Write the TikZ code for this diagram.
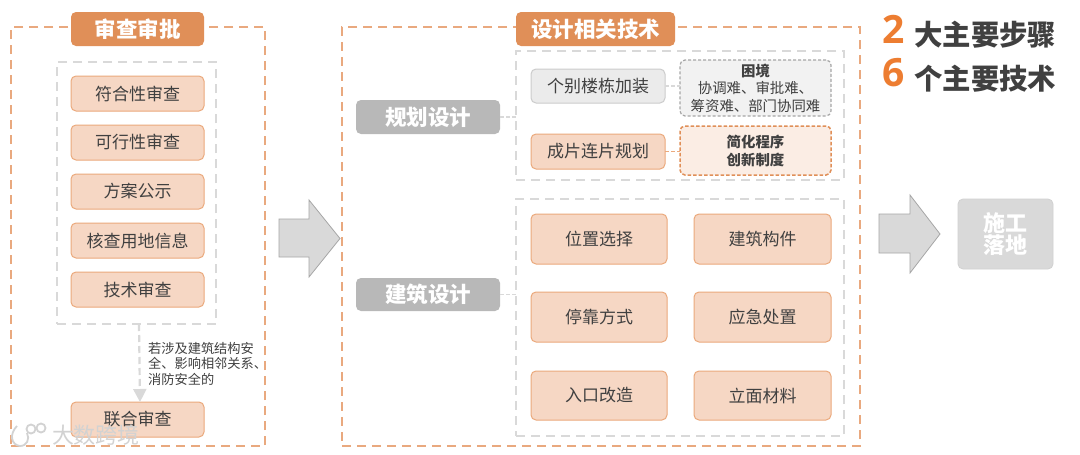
\documentclass[tikz,border=0pt]{standalone}
\usepackage{fontspec}
\setmainfont{Noto Sans CJK SC}
\newfontfamily\numfont{Open Sans}
\usetikzlibrary{arrows.meta}
\definecolor{orgline}{HTML}{E9A97F}
\definecolor{orghead}{HTML}{E08F58}
\definecolor{orgfill}{HTML}{F6D7C4}
\definecolor{orgbord}{HTML}{EBA97C}
\definecolor{orgnum}{HTML}{ED7D31}
\definecolor{grayline}{HTML}{D9D9D9}
\definecolor{graymid}{HTML}{B8B8B8}
\definecolor{txt}{HTML}{404040}
\definecolor{wmark}{HTML}{D2D2D2}
\newcommand{\fs}[1]{\fontsize{#1}{#1}\selectfont}
\newcommand{\bx}[7][]{%
  \node[#6,minimum width={(#4-#2)*1pt},minimum height={(#5-#3)*1pt},#1] (#7) at ({(#2+#4)/2},{(#3+#5)/2})}
\tikzset{
  base/.style={inner sep=0pt,outer sep=0pt,rounded corners=5pt,align=center},
  outerbox/.style={base,rounded corners=0pt,draw=orgline,line width=2.3pt,dash pattern=on 9pt off 6pt},
  innerbox/.style={base,rounded corners=0pt,draw=grayline,line width=2.3pt,dash pattern=on 9pt off 6pt},
  headbox/.style={base,fill=orghead,text=white,font=\fs{21.5}\bfseries},
  stagebox/.style={base,fill=graymid,text=white,font=\fs{21.5}\bfseries},
  itembox/.style={base,fill=orgfill,draw=orgbord,line width=1pt,text=txt,font=\fs{17}},
  plainbox/.style={base,fill=black!8,draw=black!20,line width=1pt,text=txt,font=\fs{17}},
  troublebox/.style={base,fill=black!5,draw=black!35,line width=1.2pt,dash pattern=on 3pt off 2pt,text=txt,font=\fontsize{14.4}{17.5}\selectfont},
  solvebox/.style={base,fill=orgfill!45,draw=orghead,line width=1.5pt,dash pattern=on 3.5pt off 2pt,text=txt,font=\fontsize{14.4}{18}\selectfont\bfseries},
  endbox/.style={base,fill=grayline,draw=black!18,line width=.8pt,text=white,font=\fs{22}\bfseries},
  bigarrow/.style={fill=grayline,draw=black!35,line width=.8pt},
  conn/.style={line width=1.2pt,draw=grayline,dash pattern=on 4pt off 2pt},
}
\begin{document}
\begin{tikzpicture}[x=1pt,y=-1pt]
\useasboundingbox (0,0) rectangle (1080,455);
\fill[white] (0,0) rectangle (1080,455);
% outer frames
\bx{11}{27}{265}{446}{outerbox}{frameA} {};
\bx{342}{27}{860}{446}{outerbox}{frameB} {};
% inner frames
\bx{57}{62}{216}{324}{innerbox}{listA} {};
\bx{516}{51}{844}{180}{innerbox}{listB} {};
\bx{516}{199}{844}{436}{innerbox}{listC} {};
% headers
\bx{71}{12}{204}{46}{headbox}{headA} {审查审批};
\bx{516}{12}{675}{46}{headbox}{headB} {设计相关技术};
% left column
\bx{71}{76}{204}{111}{itembox}{a1} {符合性审查};
\bx{71}{125}{204}{160}{itembox}{a2} {可行性审查};
\bx{71}{174}{204}{209}{itembox}{a3} {方案公示};
\bx{71}{223}{204}{258}{itembox}{a4} {核查用地信息};
\bx{71}{272}{204}{307}{itembox}{a5} {技术审查};
\bx{71}{402}{204}{437}{itembox}{a6} {联合审查};
\draw[draw=grayline,line width=2.2pt,dash pattern=on 7pt off 4pt,-{Triangle[width=13pt,length=13pt,fill=grayline]}] ([xshift=2.5pt]listA.south) -- ([xshift=2.5pt]a6.north);
\node[anchor=north west,inner sep=0pt,align=left,text=txt,font=\fontsize{13.2}{15.4}\selectfont] (note) at (148,342) {若涉及建筑结构安\\全、影响相邻关系、\\消防安全的};
% stages
\bx{356}{100}{500}{134}{stagebox}{s1} {规划设计};
\bx{356}{278}{500}{311}{stagebox}{s2} {建筑设计};
\draw[conn] (s1.east) -- (s1.east -| listB.west);
\draw[conn] (s2.east) -- (s2.east -| listC.west);
% planning
\bx{531}{69}{665}{103}{plainbox}{p1} {个别楼栋加装};
\bx{531}{134}{665}{169}{itembox}{p2} {成片连片规划};
\bx{680}{60}{831}{116}{troublebox}{q1} {\bfseries 困境\\协调难、审批难、\\筹资难、部门协同难};
\bx{680}{126}{831}{175}{solvebox}{q2} {简化程序\\创新制度};
\draw[conn] (p1.east) -- (q1.west |- p1.east);
\draw[conn,draw=orgbord] (p2.east) -- (q2.west |- p2.east);
% building
\bx{531}{214}{667}{264}{itembox}{b1} {位置选择};
\bx{694}{214}{831}{264}{itembox}{b2} {建筑构件};
\bx{531}{292}{667}{342}{itembox}{b3} {停靠方式};
\bx{694}{292}{831}{342}{itembox}{b4} {应急处置};
\bx{531}{371}{667}{420}{itembox}{b5} {入口改造};
\bx{694}{371}{831}{420}{itembox}{b6} {立面材料};
% big arrows
\draw[bigarrow] (279,219) -- (309,219) -- (309,200) -- (340,238.5) -- (309,277) -- (309,257) -- (279,257) -- cycle;
\draw[bigarrow] (879,214) -- (910,214) -- (910,195) -- (940,234) -- (910,273) -- (910,253) -- (879,253) -- cycle;
\bx{958}{199}{1053}{269}{endbox}{endb} {\fontsize{22}{26}\selectfont 施工\\落地};
% headline
\node[inner sep=0pt,text=orgnum,font=\numfont\fs{39}\bfseries] (n2) at (894,29) {2};
\node[inner sep=0pt,text=orgnum,font=\numfont\fs{39}\bfseries] (n6) at (894,73) {6};
\node[anchor=west,inner sep=0pt,text=txt,font=\fs{28.4}\bfseries] (t2) at (914,35) {大主要步骤};
\node[anchor=west,inner sep=0pt,text=txt,font=\fs{28.4}\bfseries] (t6) at (914,79) {个主要技术};
% watermark
\begin{scope}[draw=wmark,line width=1.8pt]
\draw (17,426) .. controls (9,434) and (11,445) .. (20,446) .. controls (27,446) and (30,439) .. (27,433);
\draw (31,429) circle (4.5);
\draw (41,428) circle (4.5);
\end{scope}
\node[inner sep=0pt,text=wmark,font=\fs{22}] (wm) at (96,435) {大数跨境};
\end{tikzpicture}
\end{document}
